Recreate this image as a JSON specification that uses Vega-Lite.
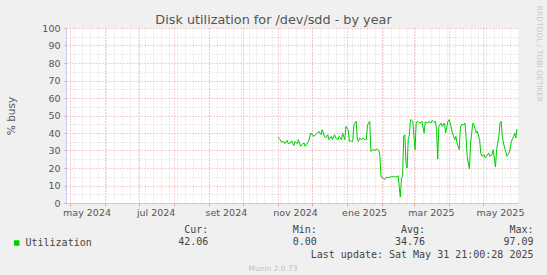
{
  "$schema": "https://vega.github.io/schema/vega-lite/v6.json",
  "width": 452,
  "height": 175,
  "autosize": {"type": "none"},
  "padding": {"left": 66, "top": 28, "right": 29, "bottom": 72},
  "background": "#f0f0f0",
  "title": {
    "text": "Disk utilization for /dev/sdd - by year",
    "frame": "group",
    "anchor": "middle",
    "dx": -18.5,
    "dy": 36,
    "baseline": "alphabetic",
    "offset": 4,
    "font": "DejaVu Sans",
    "fontSize": 12.8,
    "fontWeight": "normal",
    "color": "#555555"
  },
  "data": {
    "values": [
      {"date": "2024-11-01", "value": 37.7},
      {"date": "2024-11-03", "value": 36.2},
      {"date": "2024-11-04", "value": 34.8},
      {"date": "2024-11-06", "value": 35.2},
      {"date": "2024-11-07", "value": 33.9},
      {"date": "2024-11-09", "value": 35.8},
      {"date": "2024-11-10", "value": 34.0},
      {"date": "2024-11-12", "value": 34.3},
      {"date": "2024-11-13", "value": 35.5},
      {"date": "2024-11-15", "value": 32.8},
      {"date": "2024-11-16", "value": 35.2},
      {"date": "2024-11-18", "value": 33.9},
      {"date": "2024-11-19", "value": 36.2},
      {"date": "2024-11-21", "value": 32.4},
      {"date": "2024-11-22", "value": 33.3},
      {"date": "2024-11-24", "value": 34.3},
      {"date": "2024-11-25", "value": 32.4},
      {"date": "2024-11-27", "value": 34.3},
      {"date": "2024-11-28", "value": 35.2},
      {"date": "2024-11-30", "value": 40.0},
      {"date": "2024-12-01", "value": 39.0},
      {"date": "2024-12-03", "value": 38.1},
      {"date": "2024-12-04", "value": 39.0},
      {"date": "2024-12-06", "value": 40.0},
      {"date": "2024-12-07", "value": 41.0},
      {"date": "2024-12-09", "value": 39.0},
      {"date": "2024-12-10", "value": 41.9},
      {"date": "2024-12-12", "value": 38.1},
      {"date": "2024-12-13", "value": 37.1},
      {"date": "2024-12-15", "value": 39.0},
      {"date": "2024-12-16", "value": 36.2},
      {"date": "2024-12-18", "value": 38.1},
      {"date": "2024-12-19", "value": 36.2},
      {"date": "2024-12-21", "value": 39.0},
      {"date": "2024-12-22", "value": 37.1},
      {"date": "2024-12-24", "value": 36.2},
      {"date": "2024-12-25", "value": 38.1},
      {"date": "2024-12-27", "value": 36.2},
      {"date": "2024-12-28", "value": 40.0},
      {"date": "2024-12-30", "value": 36.2},
      {"date": "2024-12-31", "value": 43.8},
      {"date": "2025-01-02", "value": 41.9},
      {"date": "2025-01-03", "value": 35.2},
      {"date": "2025-01-04", "value": 35.8},
      {"date": "2025-01-05", "value": 35.2},
      {"date": "2025-01-06", "value": 35.2},
      {"date": "2025-01-07", "value": 44.7},
      {"date": "2025-01-08", "value": 45.7},
      {"date": "2025-01-09", "value": 46.7},
      {"date": "2025-01-10", "value": 36.5},
      {"date": "2025-01-11", "value": 35.2},
      {"date": "2025-01-12", "value": 37.1},
      {"date": "2025-01-14", "value": 36.2},
      {"date": "2025-01-15", "value": 37.1},
      {"date": "2025-01-17", "value": 36.2},
      {"date": "2025-01-18", "value": 36.2},
      {"date": "2025-01-19", "value": 44.5},
      {"date": "2025-01-20", "value": 45.7},
      {"date": "2025-01-21", "value": 46.7},
      {"date": "2025-01-22", "value": 29.5},
      {"date": "2025-01-24", "value": 30.5},
      {"date": "2025-01-26", "value": 30.1},
      {"date": "2025-01-27", "value": 30.9},
      {"date": "2025-01-29", "value": 30.1},
      {"date": "2025-01-30", "value": 26.7},
      {"date": "2025-01-31", "value": 14.9},
      {"date": "2025-02-02", "value": 14.3},
      {"date": "2025-02-03", "value": 13.3},
      {"date": "2025-02-05", "value": 14.9},
      {"date": "2025-02-06", "value": 14.3},
      {"date": "2025-02-08", "value": 14.9},
      {"date": "2025-02-09", "value": 14.9},
      {"date": "2025-02-11", "value": 15.2},
      {"date": "2025-02-12", "value": 14.9},
      {"date": "2025-02-14", "value": 14.9},
      {"date": "2025-02-15", "value": 15.6},
      {"date": "2025-02-16", "value": 9.5},
      {"date": "2025-02-17", "value": 3.4},
      {"date": "2025-02-18", "value": 14.3},
      {"date": "2025-02-19", "value": 15.2},
      {"date": "2025-02-20", "value": 38.1},
      {"date": "2025-02-21", "value": 39.0},
      {"date": "2025-02-22", "value": 22.9},
      {"date": "2025-02-23", "value": 20.0},
      {"date": "2025-02-24", "value": 36.2},
      {"date": "2025-02-25", "value": 39.0},
      {"date": "2025-02-26", "value": 47.6},
      {"date": "2025-02-27", "value": 47.2},
      {"date": "2025-02-28", "value": 46.7},
      {"date": "2025-03-02", "value": 30.5},
      {"date": "2025-03-03", "value": 45.7},
      {"date": "2025-03-04", "value": 46.7},
      {"date": "2025-03-05", "value": 46.1},
      {"date": "2025-03-07", "value": 45.7},
      {"date": "2025-03-08", "value": 46.7},
      {"date": "2025-03-10", "value": 40.0},
      {"date": "2025-03-11", "value": 46.3},
      {"date": "2025-03-13", "value": 45.7},
      {"date": "2025-03-14", "value": 46.7},
      {"date": "2025-03-16", "value": 45.7},
      {"date": "2025-03-17", "value": 47.2},
      {"date": "2025-03-19", "value": 46.1},
      {"date": "2025-03-20", "value": 46.7},
      {"date": "2025-03-21", "value": 41.9},
      {"date": "2025-03-22", "value": 25.1},
      {"date": "2025-03-23", "value": 43.8},
      {"date": "2025-03-25", "value": 45.7},
      {"date": "2025-03-26", "value": 43.8},
      {"date": "2025-03-28", "value": 45.7},
      {"date": "2025-03-29", "value": 40.0},
      {"date": "2025-03-31", "value": 46.7},
      {"date": "2025-04-01", "value": 47.6},
      {"date": "2025-04-02", "value": 45.7},
      {"date": "2025-04-04", "value": 40.0},
      {"date": "2025-04-05", "value": 38.1},
      {"date": "2025-04-06", "value": 36.2},
      {"date": "2025-04-07", "value": 38.1},
      {"date": "2025-04-08", "value": 34.3},
      {"date": "2025-04-10", "value": 30.5},
      {"date": "2025-04-11", "value": 42.9},
      {"date": "2025-04-12", "value": 44.8},
      {"date": "2025-04-14", "value": 44.8},
      {"date": "2025-04-15", "value": 45.7},
      {"date": "2025-04-16", "value": 38.1},
      {"date": "2025-04-17", "value": 26.7},
      {"date": "2025-04-19", "value": 19.4},
      {"date": "2025-04-20", "value": 34.3},
      {"date": "2025-04-22", "value": 45.7},
      {"date": "2025-04-23", "value": 44.8},
      {"date": "2025-04-25", "value": 40.0},
      {"date": "2025-04-26", "value": 41.0},
      {"date": "2025-04-28", "value": 36.2},
      {"date": "2025-04-29", "value": 28.6},
      {"date": "2025-04-30", "value": 26.7},
      {"date": "2025-05-02", "value": 27.6},
      {"date": "2025-05-03", "value": 25.7},
      {"date": "2025-05-04", "value": 26.7},
      {"date": "2025-05-06", "value": 28.6},
      {"date": "2025-05-07", "value": 26.7},
      {"date": "2025-05-09", "value": 27.6},
      {"date": "2025-05-10", "value": 30.5},
      {"date": "2025-05-12", "value": 20.6},
      {"date": "2025-05-13", "value": 30.5},
      {"date": "2025-05-15", "value": 38.1},
      {"date": "2025-05-16", "value": 45.7},
      {"date": "2025-05-17", "value": 46.7},
      {"date": "2025-05-18", "value": 38.1},
      {"date": "2025-05-19", "value": 34.3},
      {"date": "2025-05-21", "value": 29.5},
      {"date": "2025-05-22", "value": 26.7},
      {"date": "2025-05-24", "value": 28.6},
      {"date": "2025-05-25", "value": 31.4},
      {"date": "2025-05-26", "value": 35.2},
      {"date": "2025-05-28", "value": 38.1},
      {"date": "2025-05-29", "value": 40.0},
      {"date": "2025-05-30", "value": 37.1},
      {"date": "2025-05-31", "value": 42.3}
    ]
  },
  "resolve": {"axis": {"x": "independent", "y": "independent"}},
  "layer": [
    {
      "mark": {"type": "line", "opacity": 0},
      "encoding": {
        "x": {
          "field": "date", "type": "temporal",
          "scale": {"type": "utc", "nice": false, "domain": [{"year": 2024, "month": 4, "date": 27, "hours": 21, "utc": true}, {"year": 2025, "month": 5, "date": 31, "hours": 21, "utc": true}]},
          "axis": {"orient": "bottom", "grid": true, "gridColor": "#d6d6d6", "gridDash": [1, 2], "labels": false, "ticks": false, "domain": false, "tickCount": {"interval": "week", "step": 1},
            "title": "Munin 2.0.73", "titleFont": "DejaVu Sans", "titleFontSize": 7.5, "titleFontWeight": "normal", "titleColor": "#c0c0c0", "titleX": 206.5, "titleY": 67, "titleAlign": "center", "titleBaseline": "alphabetic"}
        },
        "y": {
          "field": "value", "type": "quantitative",
          "scale": {"domain": [0, 100], "nice": false, "zero": true},
          "axis": {"orient": "left", "grid": true, "gridColor": "#d6d6d6", "gridDash": [1, 2], "labels": false, "ticks": false, "domain": false, "title": null, "values": [5, 15, 25, 35, 45, 55, 65, 75, 85, 95]}
        }
      }
    },
    {
      "mark": {"type": "line", "opacity": 0},
      "encoding": {
        "x": {
          "field": "date", "type": "temporal",
          "scale": {"type": "utc", "nice": false, "domain": [{"year": 2024, "month": 4, "date": 27, "hours": 21, "utc": true}, {"year": 2025, "month": 5, "date": 31, "hours": 21, "utc": true}]},
          "axis": {"orient": "bottom", "grid": true, "gridColor": "#e6a0a0", "gridDash": [1, 2], "labels": false, "ticks": true, "tickSize": 3, "tickColor": "#e6a0a0", "domain": false, "title": null, "tickCount": {"interval": "month", "step": 1}}
        },
        "y": {
          "field": "value", "type": "quantitative",
          "scale": {"domain": [0, 100], "nice": false, "zero": true},
          "axis": {"orient": "right", "grid": false, "labels": false, "ticks": false, "domain": false, "title": "RRDTOOL / TOBI OETIKER", "titleFont": "DejaVu Sans", "titleFontSize": 7.5, "titleFontWeight": "normal", "titleColor": "#c8c8c8", "titleAngle": 90, "titleX": 20, "titleY": 25.5, "titleAlign": "center", "titleBaseline": "middle"}
        }
      }
    },
    {
      "mark": {"type": "line", "strokeWidth": 1},
      "encoding": {
        "x": {
          "field": "date", "type": "temporal",
          "scale": {"type": "utc", "nice": false, "domain": [{"year": 2024, "month": 4, "date": 27, "hours": 21, "utc": true}, {"year": 2025, "month": 5, "date": 31, "hours": 21, "utc": true}]},
          "axis": {
            "orient": "bottom", "grid": false, "ticks": false, "domain": true, "domainColor": "#c8c8f0",
            "values": [
              {"year": 2024, "month": 5, "date": 16, "utc": true},
              {"year": 2024, "month": 7, "date": 16, "utc": true},
              {"year": 2024, "month": 9, "date": 16, "utc": true},
              {"year": 2024, "month": 11, "date": 16, "utc": true},
              {"year": 2025, "month": 1, "date": 16, "utc": true},
              {"year": 2025, "month": 3, "date": 16, "utc": true},
              {"year": 2025, "month": 5, "date": 16, "utc": true}
            ],
            "labelExpr": "['ene','feb','mar','abr','may','jun','jul','ago','set','oct','nov','dic'][utcmonth(datum.value)] + ' ' + utcyear(datum.value)",
            "labelFont": "DejaVu Sans", "labelFontSize": 9.5, "labelColor": "#555555", "labelPadding": 4, "labelFlush": false, "labelOverlap": false,
            "title": [
              "Cur:\u00a0\u00a0\u00a0\u00a0\u00a0\u00a0\u00a0\u00a0\u00a0\u00a0\u00a0\u00a0\u00a0\u00a0Min:\u00a0\u00a0\u00a0\u00a0\u00a0\u00a0\u00a0\u00a0\u00a0\u00a0\u00a0\u00a0\u00a0\u00a0Avg:\u00a0\u00a0\u00a0\u00a0\u00a0\u00a0\u00a0\u00a0\u00a0\u00a0\u00a0\u00a0\u00a0\u00a0Max:\u00a0\u00a0",
              "42.06\u00a0\u00a0\u00a0\u00a0\u00a0\u00a0\u00a0\u00a0\u00a0\u00a0\u00a0\u00a0\u00a0\u00a00.00\u00a0\u00a0\u00a0\u00a0\u00a0\u00a0\u00a0\u00a0\u00a0\u00a0\u00a0\u00a0\u00a034.76\u00a0\u00a0\u00a0\u00a0\u00a0\u00a0\u00a0\u00a0\u00a0\u00a0\u00a0\u00a0\u00a097.09",
              "Last update: Sat May 31 21:00:28 2025"
            ],
            "titleFont": "DejaVu Sans Mono", "titleFontSize": 10, "titleFontWeight": "normal", "titleColor": "#444444",
            "titleAlign": "right", "titleBaseline": "top", "titleX": 467, "titleY": 21.5, "titleLineHeight": 12.4
          }
        },
        "y": {
          "field": "value", "type": "quantitative",
          "scale": {"domain": [0, 100], "nice": false, "zero": true},
          "axis": {
            "orient": "left", "values": [0, 10, 20, 30, 40, 50, 60, 70, 80, 90, 100],
            "grid": true, "gridColor": "#e6a0a0", "gridDash": [1, 2],
            "ticks": true, "tickSize": 2, "tickColor": "#e6a0a0",
            "domain": true, "domainColor": "#c8c8f0",
            "labelFont": "DejaVu Sans", "labelFontSize": 9.5, "labelColor": "#555555", "labelPadding": 4,
            "title": "% busy", "titleFont": "DejaVu Sans", "titleFontSize": 10.5, "titleFontWeight": "normal", "titleColor": "#555555",
            "titleX": -55, "titleY": 87.5, "titleAngle": -90, "titleAlign": "center", "titleBaseline": "middle"
          }
        },
        "color": {
          "datum": "Utilization", "type": "nominal",
          "scale": {"range": ["#00cc00"]},
          "legend": {
            "orient": "none", "legendX": -54.3, "legendY": 210, "title": null, "padding": 0,
            "symbolType": "square", "symbolSize": 30, "symbolFillColor": "#00cc00", "symbolStrokeColor": "#00cc00", "symbolStrokeWidth": 0,
            "labelFont": "DejaVu Sans Mono", "labelFontSize": 10, "labelColor": "#444444", "labelOffset": 3.8
          }
        }
      }
    }
  ],
  "config": {
    "view": {"fill": "white", "stroke": null}
  }
}
